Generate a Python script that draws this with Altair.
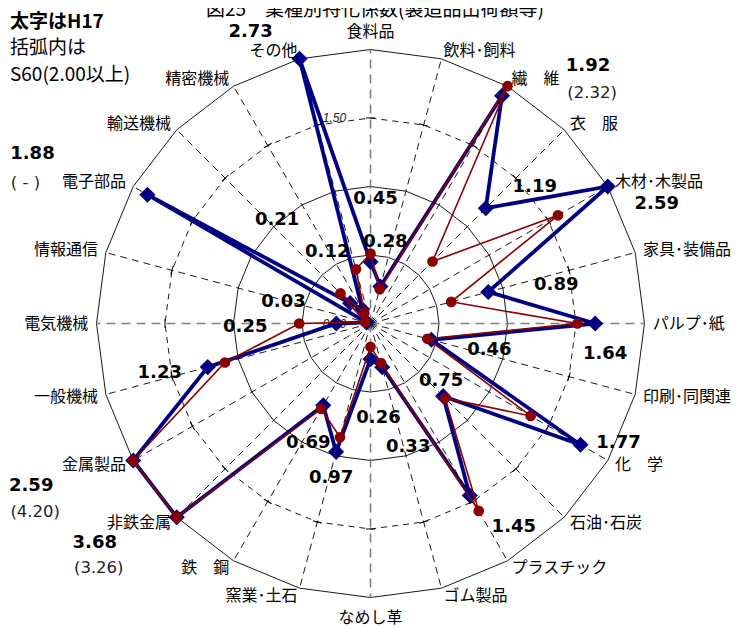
import altair as alt
import pandas as pd

# ---------------- data ----------------
categories = ["食料品", "飲料･飼料", "繊　維", "衣　服", "木材･木製品", "家具･装備品",
              "パルプ･紙", "印刷･同関連", "化　学", "石油･石炭", "プラスチック", "ゴム製品",
              "なめし革", "窯業･土石", "鉄　鋼", "非鉄金属", "金属製品", "一般機械",
              "電気機械", "情報通信", "電子部品", "輸送機械", "精密機械", "その他"]
h17 = [0.45, 0.28, 1.92, 1.19, 2.59, 0.89, 1.64, 0.46, 1.77, 0.75, 1.45, 0.33,
       0.26, 0.97, 0.69, 3.68, 2.59, 1.23, 0.25, 0.03, 1.88, 0.21, 0.12, 2.73]
s60 = [0.51, 0.26, 2.32, 0.64, 1.58, 0.61, 1.51, 0.43, 1.35, 0.77, 1.58, 0.30,
       0.17, 0.86, 0.72, 3.26, 4.20, 1.10, 0.52, 0.04, None, 0.31, 0.09, 0.41]
rings = [0.5, 1.0, 1.5, 2.0]
axis_labels = [0.0, 1.5]
title_text = "図25　業種別特化係数(製造品出荷額等)"
legend_lines = ["太字はH17", "括弧内は", "S60(2.00以上)"]

# ---------------- layout (pixels) ----------------
W, H = 733, 621
S = 137.0            # pixels per unit
CX, CY = 362.5, 315.5
RMAX = 2.0
# value-label offsets from their point (px)
lbl_dx = [5, 5, 86, 49, 49, 68, 10, 58, 38, -2, 44, 26, 8, -5, -15, -82, -102, -48, -91, -83, -115, -73, -35, -49]
lbl_dy = [-63, -44, -30, -21, 17, -7, 30, 10, -2, -15, 31, 80, 59, 26, 38, 26, 25, 6, 3, -20, -41, -83, -57, -27]
# S60 note offsets (only for values >= 2.00 or missing)
note_dx = {2: 90, 15: -78, 16: -98, 20: -122}
note_dy = {2: -3, 15: 51, 16: 51, 20: -12}

NAVY = "#000080"
DRED = "#8B0000"
JP = "Noto Sans CJK JP"

xs = alt.Scale(domain=[-CX / S, (W - CX) / S], nice=False, zero=False)
ys = alt.Scale(domain=[-(H - CY) / S, CY / S], nice=False, zero=False)


def X(f):
    return alt.X(f, type="quantitative", scale=xs, axis=None)


def Y(f):
    return alt.Y(f, type="quantitative", scale=ys, axis=None)


n = len(categories)

# ---------------- tables ----------------
series_rows = []
for name, vals in (("H17", h17), ("S60", s60)):
    for i in range(n + 1):
        series_rows.append({"series": name, "idx": i, "value": vals[i % n]})
series_df = pd.DataFrame(series_rows)

ring_df = pd.DataFrame([{"ring": r, "idx": i} for r in rings for i in range(n + 1)])
spoke_df = pd.DataFrame({"idx": list(range(n))})
cat_df = pd.DataFrame({"idx": list(range(n)), "cat": categories})

lab_df = pd.DataFrame({"idx": list(range(n)), "value": h17,
                       "txt": [f"{v:.2f}" for v in h17],
                       "ddx": lbl_dx, "ddy": lbl_dy})
note_rows = []
for i, v in enumerate(s60):
    if v is None:
        t = "( - )"
    elif v >= 2.0:
        t = f"({v:.2f})"
    else:
        continue
    note_rows.append({"idx": i, "value": h17[i], "txt": t, "ddx": note_dx[i], "ddy": note_dy[i]})
note_df = pd.DataFrame(note_rows)
axl_df = pd.DataFrame({"v": axis_labels, "txt": [f"{v:.2f}" for v in axis_labels]})

polar = dict(ang="datum.idx*PI/12",
             rr=f"min(datum.value,{RMAX})",
             px="datum.rr*sin(datum.ang)",
             py="datum.rr*cos(datum.ang)")

# ---------------- grid ----------------
ring_base = alt.Chart(ring_df).transform_calculate(
    ang="datum.idx*PI/12", px="datum.ring*sin(datum.ang)", py="datum.ring*cos(datum.ang)")
rings_solid = ring_base.transform_filter("datum.ring != 1.5").mark_line(
    color="black", strokeWidth=0.9).encode(X("px"), Y("py"), detail="ring:N", order="idx:Q")
rings_dash = ring_base.transform_filter("datum.ring == 1.5").mark_line(
    color="black", strokeWidth=0.9, strokeDash=[6, 5]).encode(X("px"), Y("py"), order="idx:Q")

spoke_base = alt.Chart(spoke_df).transform_calculate(
    ang="datum.idx*PI/12", x0="0", y0="0",
    px=f"{RMAX}*sin(datum.ang)", py=f"{RMAX}*cos(datum.ang)")
spokes_minor = spoke_base.transform_filter("datum.idx % 6 != 0").mark_rule(
    color="black", strokeWidth=0.9, strokeDash=[7, 5]).encode(X("x0"), Y("y0"), x2="px:Q", y2="py:Q")
spokes_major = spoke_base.transform_filter("datum.idx % 6 == 0").mark_rule(
    color="#808080", strokeWidth=1.6, strokeDash=[9, 6]).encode(X("x0"), Y("y0"), x2="px:Q", y2="py:Q")

ticks = alt.Chart(spoke_df).transform_calculate(
    ang="datum.idx*PI/12", deg="datum.idx*15",
    px="1.5*sin(datum.ang)", py="1.5*cos(datum.ang)").mark_point(
    shape="stroke", size=81, strokeWidth=1, color="black", opacity=1).encode(
    X("px"), Y("py"), angle=alt.Angle("deg:Q", scale=None))

axis_text = alt.Chart(axl_df).transform_calculate(
    px=f"-36/{S}", py="datum.v").mark_text(
    font="Liberation Sans", fontSize=12, fontStyle="italic", color="#222222",
    align="center", baseline="middle").encode(X("px"), Y("py"), text="txt:N")

# ---------------- series ----------------
def series_layers(name, color, width):
    base = alt.Chart(series_df).transform_filter(
        f"datum.series == '{name}' && datum.value != null").transform_calculate(**polar)
    line = base.mark_line(color=color, strokeWidth=width).encode(X("px"), Y("py"), order="idx:Q")
    return base, line


h_base, h_line = series_layers("H17", NAVY, 3.8)
s_base, s_line = series_layers("S60", DRED, 1.6)
h_pts = h_base.transform_filter(f"datum.idx < {n}").mark_point(
    shape="diamond", filled=True, size=260, color=NAVY, opacity=1).encode(X("px"), Y("py"))
s_pts = s_base.transform_filter(f"datum.idx < {n}").mark_circle(
    size=115, color=DRED, opacity=1).encode(X("px"), Y("py"))

# ---------------- labels ----------------
lab_calc = dict(polar)
lab_calc.update(lx=f"datum.px + datum.ddx/{S}", ly=f"datum.py - datum.ddy/{S}")
val_labels = alt.Chart(lab_df).transform_calculate(**lab_calc).mark_text(
    font="DejaVu Sans", fontWeight="bold", fontSize=18, color="black",
    align="center", baseline="middle").encode(X("lx"), Y("ly"), text="txt:N")
note_labels = alt.Chart(note_df).transform_calculate(**lab_calc).mark_text(
    font="DejaVu Sans", fontSize=16.5, color="#222222",
    align="center", baseline="middle").encode(X("lx"), Y("ly"), text="txt:N")

cat_base = alt.Chart(cat_df).transform_calculate(
    ang="datum.idx*PI/12",
    lr="datum.idx == 0 ? 2.13 : (datum.idx == 12 ? 2.15 : 2.06)",
    px="datum.lr*sin(datum.ang)", py="datum.lr*cos(datum.ang)")
cat_kw = dict(font=JP, fontSize=16, color="black", baseline="middle")
cat_right = cat_base.transform_filter("datum.idx > 0 && datum.idx < 12").mark_text(
    align="left", **cat_kw).encode(X("px"), Y("py"), text="cat:N")
cat_left = cat_base.transform_filter("datum.idx > 12").mark_text(
    align="right", **cat_kw).encode(X("px"), Y("py"), text="cat:N")
cat_mid = cat_base.transform_filter("datum.idx % 12 == 0").mark_text(
    align="center", **cat_kw).encode(X("px"), Y("py"), text="cat:N")

title = alt.Chart(pd.DataFrame({"t": [title_text]})).mark_text(
    font=JP, fontSize=19, color="black", align="center", baseline="bottom").encode(
    x=alt.value(367), y=alt.value(12), text="t:N")

leg_df = pd.DataFrame({"t": legend_lines, "row": [0, 1, 2]})
legend_bold = alt.Chart(leg_df).transform_filter("datum.row == 0").mark_text(
    font=JP, fontSize=19, fontWeight="bold", color="black", align="left", baseline="middle").encode(
    x=alt.value(2), y=alt.value(14), text="t:N")
legend_reg1 = alt.Chart(leg_df).transform_filter("datum.row == 1").mark_text(
    font=JP, fontSize=19, color="black", align="left", baseline="middle").encode(
    x=alt.value(2), y=alt.value(40), text="t:N")
legend_reg2 = alt.Chart(leg_df).transform_filter("datum.row == 2").mark_text(
    font=JP, fontSize=19, color="black", align="left", baseline="middle").encode(
    x=alt.value(2), y=alt.value(67), text="t:N")

chart = alt.layer(
    rings_solid, rings_dash, spokes_minor, spokes_major, ticks, axis_text,
    h_line, h_pts, s_line, s_pts,
    cat_right, cat_left, cat_mid, val_labels, note_labels,
    title, legend_bold, legend_reg1, legend_reg2,
).properties(
    width=W, height=H, autosize=alt.AutoSizeParams(type="none"), padding=0,
    background="white",
).configure_view(stroke=None)

chart.save("out.html", embed_options={"renderer": "svg", "actions": False})
